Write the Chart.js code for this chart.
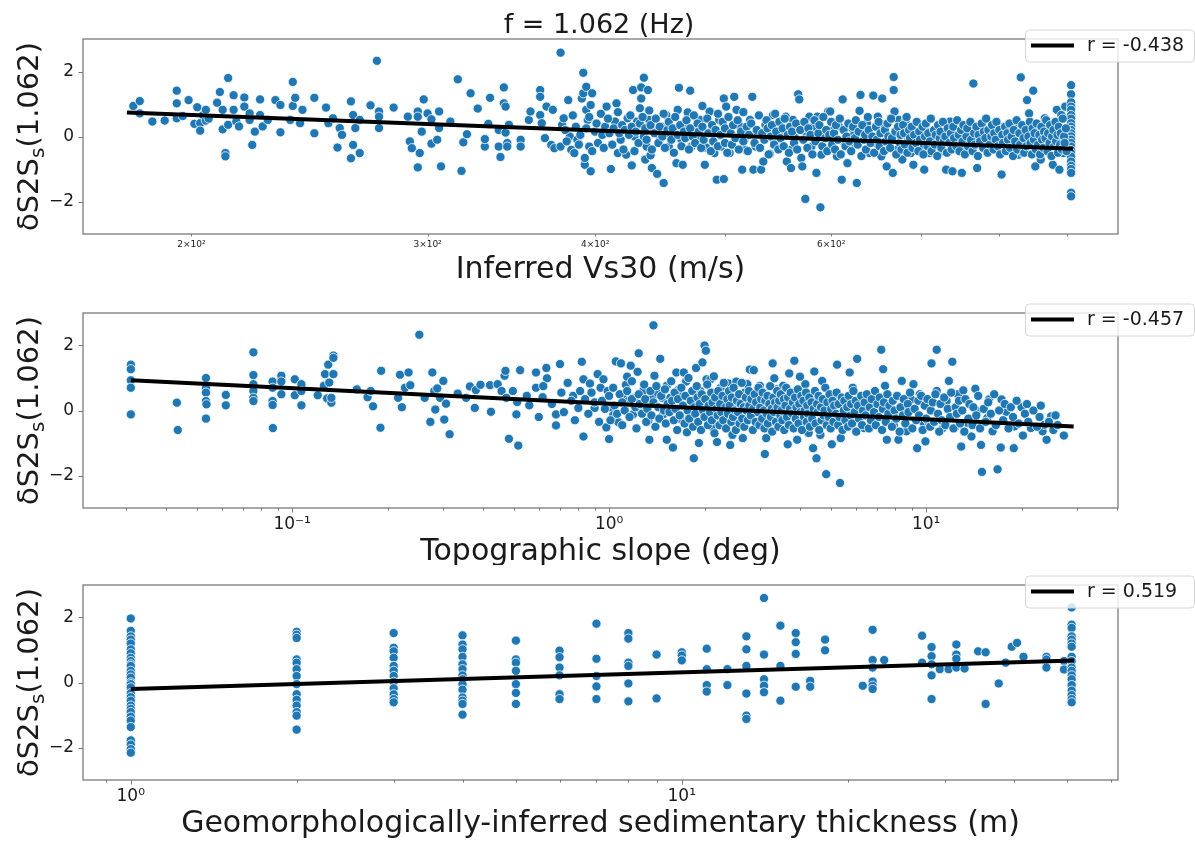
<!DOCTYPE html>
<html>
<head>
<meta charset="utf-8">
<title>dS2S vs site parameters</title>
<script src="https://cdn.jsdelivr.net/npm/chart.js@4.4.1/dist/chart.umd.min.js"></script>
<style>
  html, body { margin: 0; padding: 0; background: #fff; }
  #page { position: relative; width: 1195px; height: 842px; overflow: hidden; }
  #page canvas { position: absolute; left: 0; }
</style>
</head>
<body>
<div id="page">
  <canvas id="vs30Chart" width="1195" height="285" style="top:0px"></canvas>
  <canvas id="slopeChart" width="1195" height="280" style="top:285px"></canvas>
  <canvas id="thickChart" width="1195" height="277" style="top:565px"></canvas>
</div>
<script>
// station terms vs inferred Vs30 (m/s)
const vs30Points = [
  [181,0.94],[183,1.09],[183,0.71],[187,0.46],[191,0.49],[195,1.41],[195,1.02],[195,0.56],[197,0.63],[199,1.12],
  [201,0.39],[202,0.9],[203,0.41],[203,0.18],[204,0.66],[205,0.82],[205,0.49],[206,0.55],[209,1.04],[210,1.37],
  [211,0.22],[211,0.82],[212,-0.51],[212,-0.61],[213,1.8],[213,0.36],[215,0.82],[215,1.27],[216,0.46],[217,0.31],
  [219,1.2],[219,0.92],[221,0.71],[221,0.51],[222,-0.26],[223,0.15],[225,1.14],[225,0.66],[226,0.31],[228,0.51],
  [231,1.12],[233,0.97],[233,0.13],[237,0.51],[238,1.68],[238,0.94],[239,1.19],[241,0.41],[242,0.82],[247,1.19],
  [247,0.1],[252,0.89],[253,0.41],[255,0.56],[257,-0.34],[258,0.26],[259,0.05],[263,1.08],[263,-0.67],[264,0.66],
  [264,-0.26],[265,0.26],[267,-0.51],[267,0.51],[272,0.96],[275,2.33],[276,0.77],[276,0.61],[276,0.26],[283,0.89],
  [290,0.61],[291,-0.15],[292,-0.36],[295,0.77],[295,-0.95],[295,0.61],[296,-0.51],[297,0.15],[298,1.14],[300,0.71],
  [302,0.53],[302,-0.22],[305,-0.1],[306,0.26],[306,0.77],[307,-0.92],[312,0.46],[316,1.76],[318,-1.06],[319,-0.18],
  [321,0.07],[323,1.33],[327,0.86],[331,-0.31],[331,-0.08],[333,0.39],[334,1.19],[339,0.2],[339,-0.31],[340,-0.63],
  [342,1.51],[342,1.02],[343,0.92],[343,0.12],[344,-0.2],[344,-0.31],[345,0.36],[352,-0.1],[352,-0.31],[357,0.51],
  [358,0.77],[364,1.43],[364,1.22],[364,0.66],[365,0.41],[367,-0.05],[368,0.92],[371,-0.26],[372,0.82],[373,-0.36],
  [377,-0.31],[377,2.58],[378,0.36],[379,0.56],[382,1.12],[383,0.0],[384,-0.41],[386,-0.51],[388,-0.1],[391,1.17],
  [392,1.33],[392,1.96],[393,-0.87],[393,-0.66],[394,0.82],[394,1.53],[395,0.51],[396,-0.31],[397,0.97],[397,-1.07],
  [398,1.33],
  [408,0.92],[411,-1.0],[414,0.46],[415,1.02],[416,-0.51],[418,-0.1],[422,-0.56],[423,0.56],[426,-0.89],[427,1.43],
  [428,0.0],[430,0.46],[432,0.87],[433,1.17],[433,1.51],[435,1.81],[436,-0.71],[437,-0.31],[438,1.43],[439,0.51],
  [440,-0.58],[441,-0.97],[442,0.2],[445,-1.15],[447,-0.1],[448,0.31],[450,-1.43],[452,0.66],[454,-0.31],[455,0.05],
  [460,-0.82],[461,0.82],[462,1.5],[464,-0.1],[465,-0.87],[467,0.36],[469,0.74],[471,1.41],[472,-0.31],[474,0.18],
  [476,0.0],[479,0.51],[481,0.94],[483,-0.87],[484,-0.34],[487,0.77],[490,0.1],[491,-0.51],[493,-1.33],[495,0.51],
  [497,-0.31],[499,-1.31],[499,1.17],[501,0.92],[504,-0.51],[508,1.22],[510,0.82],[512,0.36],[515,-1.02],[517,-0.1],
  [518,-0.41],[522,0.51],[524,1.22],[525,-1.02],[527,-0.31],[529,0.1],[532,-1.02],[534,-0.77],[536,0.36],[540,-0.53],
  [543,0.66],[547,-0.1],[551,0.15],[555,0.61],[556,-0.77],[560,-0.41],[560,-0.97],[562,0.51],[564,-0.05],[567,1.3],
  [568,1.14],[570,-0.66],[571,-0.92],[574,-1.92],[575,0.0],[578,0.61],[580,-0.31],[582,0.31],[585,-1.12],[586,0.61],
  [589,-2.18],[590,-0.56],[593,0.0],[597,0.77],[599,0.77],[602,0.2],[606,-0.61],[608,0.31],[611,-1.33],[612,1.14],
  [614,-0.2],[617,-0.82],[620,-0.36],[622,0.26],[624,0.05],[627,-1.43],[630,0.79],[631,1.28],[634,0.15],[638,0.41],
  [641,-0.51],[645,1.26],[647,-0.2],[650,0.61],[654,-0.61],[655,1.17],[656,0.33],[660,-0.92],[663,-0.05],[667,-1.12],
  [668,1.83],[668,1.43],[669,0.77],[672,-0.41],[674,0.51],[678,-0.71],[682,0.51],[685,-0.1],[688,-0.51],[691,-0.87],
  [696,0.1],[700,-0.31],[704,-1.02],[707,0.15],[710,-0.51],[714,0.0],[719,-0.2],[726,-0.46],[731,-1.02],[736,0.46],
  [739,-1.07],[743,-0.15],[751,-1.12],[754,-0.31],[760,0.15],[766,1.63],[769,0.0],[771,-0.97],[776,0.31],[778,-0.31],
  [784,-0.05],[789,0.26],[795,-0.31],[800,-0.15],[804,-1.17],[808,0.31],[814,-0.31],[819,0.15],[822,0.36],[828,-0.56],
  [831,1.82],[834,-0.51],[840,1.12],[843,0.71],[846,0.2],[849,1.41],[852,-0.92],[855,0.0],[860,-0.71],[866,0.56],
  [869,-0.31],[872,0.31],[878,-0.87],[881,-0.1],[884,0.82],[888,-1.02],[891,0.66],[894,-0.51],[897,0.92],
  [906,1.58],[906,1.3],[906,1.05],[906,0.92],[906,0.82],[906,0.66],[906,0.55],[906,0.41],[906,0.3],[906,0.2],
  [906,0.1],[906,0.0],[906,-0.1],[906,-0.2],[906,-0.31],[906,-0.42],[906,-0.51],[906,-0.62],[906,-0.77],[906,-0.9],
  [906,-1.0],[906,-1.12],[906,-1.73],[906,-1.84]
];
// the crowded band between 380 and 900 m/s
const vs30Band = [
  [380,0.2],[381,-0.15],[385,0.65],[387,0.3],[389,-0.25],[390,0.05],[394,0.25],[396,0.6],[398,-0.45],[400,0.15],
  [401,0.4],[402,-0.2],[404,0.7],[405,0.05],[406,-0.35],[407,0.3],[409,0.55],[410,0.1],[412,-0.25],[413,0.25],
  [416,0.75],[417,0.1],[419,0.35],[420,-0.4],[421,0.2],[424,0.05],[425,0.65],[426,0.3],[428,-0.45],[429,0.15],
  [431,-0.2],[432,0.4],[434,0.6],[435,0.0],[436,0.25],[437,-0.1],[439,0.8],[440,0.35],[441,-0.4],[443,0.1],
  [444,0.55],[446,-0.2],[447,0.3],[449,0.0],[450,0.7],[451,-0.35],[453,0.2],[454,0.45],[456,-0.1],[457,0.25],
  [458,-0.5],[459,0.6],[461,0.05],[463,0.35],[464,-0.3],[466,0.15],[467,-0.05],[468,0.5],[470,-0.4],[471,0.25],
  [473,0.0],[474,0.65],[475,-0.2],[477,0.4],[478,0.15],[480,-0.35],[481,0.3],[482,-0.1],[485,0.55],[486,0.1],
  [488,-0.45],[489,0.35],[490,-0.15],[492,0.2],[494,0.7],[494,-0.3],[496,0.05],[498,0.45],[500,-0.2],[500,0.25],
  [502,-0.5],[503,0.6],[505,0.1],[506,-0.25],[507,0.35],[509,-0.05],[511,0.5],[512,-0.4],[514,0.15],[516,0.75],
  [516,-0.15],[519,0.3],[520,-0.45],[521,0.05],[523,0.4],[526,-0.2],[528,0.2],[530,0.65],[531,-0.35],[533,0.1],
  [535,-0.1],[537,0.5],[538,0.25],[539,-0.55],[541,0.0],[542,0.35],[544,-0.25],[545,0.7],[546,0.15],[548,-0.4],
  [549,0.45],[550,-0.05],[552,0.25],[553,-0.3],[554,0.55],[557,0.05],[558,-0.5],[559,0.3],[561,0.15],[563,-0.2],
  [565,0.4],[566,-0.4],[569,0.2],[572,-0.1],[573,0.45],[576,-0.35],[577,0.25],[579,0.05],[581,-0.55],[583,0.5],
  [584,-0.15],[587,0.1],[588,0.35],[591,-0.3],[592,0.6],[594,-0.05],[595,0.2],[596,-0.45],[598,0.05],[600,0.45],
  [601,-0.25],[603,0.1],[604,-0.4],[605,0.35],[607,-0.1],[609,0.55],[610,-0.55],[613,0.2],[615,-0.3],[616,0.0],
  [618,0.4],[619,-0.15],[621,-0.45],[623,0.3],[625,-0.05],[626,0.5],[628,-0.25],[629,0.15],[632,-0.6],[633,0.35],
  [635,-0.1],[636,0.05],[637,-0.4],[639,0.6],[640,0.2],[642,-0.2],[644,0.0],[646,-0.5],[648,0.3],[649,-0.1],
  [651,0.45],[652,-0.3],[653,0.1],[657,-0.45],[658,0.2],[659,-0.15],[661,0.4],[662,0.0],[664,-0.35],[665,0.55],
  [666,-0.05],[670,0.15],[671,-0.55],[673,0.3],[675,-0.2],[676,0.05],[677,-0.4],[679,0.35],[680,0.1],[681,-0.25],
  [683,0.6],[684,-0.5],[686,0.2],[687,-0.05],[689,0.3],[690,-0.35],[692,0.05],[694,-0.2],[695,0.45],[697,-0.45],
  [698,0.15],[699,-0.1],[702,0.3],[703,-0.55],[705,0.0],[706,0.4],[708,-0.3],[709,0.1],[711,-0.15],[712,0.55],
  [713,-0.45],[716,0.2],[717,-0.25],[718,0.05],[720,-0.6],[721,0.35],[723,-0.05],[724,0.15],[725,-0.35],[727,0.45],
  [728,-0.15],[730,0.0],[732,-0.5],[733,0.25],[735,-0.2],[737,0.1],[738,-0.4],[740,0.3],[741,-0.05],[744,-0.3],
  [745,0.5],[747,0.05],[748,-0.45],[750,0.2],[752,-0.15],[753,0.35],[755,-0.55],[757,0.0],[758,0.25],[759,-0.3],
  [762,0.45],[763,-0.1],[765,-0.45],[767,0.1],[768,-0.25],[770,0.3],[772,-0.6],[773,0.05],[775,-0.15],[777,0.4],
  [779,-0.35],[780,0.15],[782,-0.05],[783,0.55],[785,-0.5],[786,0.2],[788,-0.25],[790,0.0],[791,0.35],[793,-0.4],
  [794,0.1],[796,-0.1],[797,0.45],[799,-0.3],[801,0.2],[802,-0.55],[805,0.05],[806,-0.2],[809,0.3],[810,-0.45],
  [812,0.1],[813,-0.1],[815,0.4],[816,-0.35],[818,0.0],[820,-0.6],[821,0.2],[823,-0.15],[825,0.5],[826,-0.4],
  [829,0.1],[830,-0.25],[833,0.35],[835,-0.05],[836,-0.5],[838,0.2],[839,-0.3],[842,0.0],[844,0.45],[845,-0.2],
  [847,-0.55],[848,0.25],[850,-0.1],[851,0.1],[853,-0.4],[854,0.4],[856,-0.25],[858,0.05],[859,-0.55],[861,0.3],
  [862,-0.1],[864,-0.35],[865,0.15],[867,-0.05],[868,0.5],[870,-0.45],[871,0.1],[873,-0.2],[874,0.35],[876,-0.6],
  [877,0.0],[879,0.2],[880,-0.3],[882,0.45],[883,-0.15],[885,0.05],[886,-0.5],[887,0.3],[889,-0.25],[890,0.1],
  [892,-0.4],[893,0.55],[895,0.0],[896,-0.2],[898,0.25],[899,-0.45]
];
const vs30Fit = [[179, 0.74], [909, -0.38]];

// station terms vs topographic slope (deg)
const slopePoints = [
  [0.031,1.41],[0.031,1.27],[0.031,0.93],[0.031,0.70],[0.031,-0.12],[0.0433,0.24],[0.0436,-0.6],[0.0535,1.0],
  [0.0535,0.70],[0.0535,0.55],[0.0535,0.29],[0.0535,-0.25],[0.0537,0.19],[0.0618,0.48],[0.0618,0.16],[0.0755,1.79],
  [0.0755,1.09],[0.0755,0.81],[0.0755,0.60],[0.0755,0.39],[0.0755,0.29],[0.0868,0.89],[0.0868,0.70],[0.0868,0.29],
  [0.0868,0.17],[0.087,-0.54],[0.0925,1.07],[0.0925,0.89],[0.0925,0.50],[0.102,0.96],[0.102,0.47],[0.107,0.81],
  [0.107,0.60],[0.107,0.16],[0.1205,0.47],[0.126,0.76],[0.127,1.12],[0.129,0.37],[0.130,1.41],[0.131,0.86],
  [0.133,0.24],[0.133,0.39],[0.135,1.69],[0.135,1.62],[0.135,1.12],[0.160,0.65],[0.173,0.41],[0.177,0.60],
  [0.180,0.13],[0.190,-0.53],[0.191,1.22],[0.216,0.39],[0.219,1.10],[0.222,0.10],[0.227,0.70],[0.233,1.17],
  [0.236,0.78],[0.252,2.33],[0.262,0.39],[0.273,-0.35],[0.277,1.17],[0.281,0.60],[0.283,0.03],[0.287,0.68],
  [0.293,0.39],[0.300,0.91],[0.302,-0.28],[0.306,0.21],[0.314,-0.73],[0.333,0.52],[0.354,0.39],[0.364,0.74],
  [0.377,0.08],[0.380,0.63],[0.393,0.79],[0.421,0.78],[0.424,-0.04],[0.445,0.81],[0.458,0.60],[0.468,1.07],
  [0.471,1.22],[0.474,0.39],[0.483,-0.87],[0.497,0.60],[0.510,-0.12],[0.513,0.26],[0.517,-1.08],[0.524,1.24],
  [0.56,0.16],[0.588,1.17],[0.588,0.70],[0.617,0.41],[0.634,1.31],[0.637,0.99],[0.68,-0.12],[0.68,-0.46],
  [0.70,1.43],[0.707,0.55],[0.77,0.45],[0.80,0.08],[0.81,0.60],[0.82,1.50],[0.83,0.96],[0.83,-0.80],
  [0.87,0.83],[0.90,0.08],[0.92,1.12],
  [0.55,0.45],[0.6,-0.2],[0.62,0.75],[0.66,0.2],[0.72,-0.05],[0.74,0.85],[0.76,0.3],[0.78,-0.3],[0.84,0.35],
  [0.86,-0.1],[0.88,0.55],[0.9,0.25],[0.93,-0.35],[0.94,0.7],
  [0.96,0.96],[0.99,0.60],[0.98,-0.52],[1.0,-0.88],[1.02,0.08],[1.03,-0.15],[1.05,1.51],[1.07,-0.36],[1.09,1.45],
  [1.11,0.50],[1.13,0.79],[1.14,1.04],[1.15,0.29],[1.17,1.38],[1.19,-0.12],[1.20,0.39],[1.23,1.19],[1.24,1.76],
  [1.26,-0.02],[1.28,0.60],[1.33,-0.31],[1.34,-0.90],[1.37,0.39],[1.38,2.62],[1.39,1.07],[1.42,0.55],[1.45,1.59],
  [1.47,0.39],[1.48,-0.12],[1.52,0.76],[1.52,-0.90],[1.56,0.39],[1.59,-1.14],[1.63,1.17],[1.66,0.65],[1.68,-0.26],
  [1.70,0.45],[1.72,1.17],[1.75,0.89],[1.76,-0.67],[1.80,-0.25],[1.85,-1.47],[1.88,1.31],[1.92,-1.0],[1.94,0.60],
  [1.97,1.48],[2.0,2.0],[2.02,1.84],[2.03,0.96],[2.07,0.29],[2.09,0.96],[2.13,-0.54],[2.19,-0.97],[2.25,0.70],
  [2.31,0.19],[2.38,0.83],[2.41,-1.06],[2.45,-0.75],[2.48,0.13],[2.52,0.89],[2.56,-0.02],[2.64,-0.85],[2.68,0.55],
  [2.73,0.81],[2.78,1.26],[2.83,0.08],[2.86,1.24],[2.93,-0.44],[2.99,0.76],[3.06,-0.02],[3.10,-1.34],[3.13,-0.85],
  [3.19,-0.23],[3.28,1.45],[3.32,0.99],[3.38,0.65],[3.45,0.34],[3.54,0.76],[3.66,-1.04],[3.70,1.14],[3.76,-0.02],
  [3.84,1.53],[3.92,-0.90],[4.0,1.04],[4.09,-0.38],[4.16,0.81],[4.26,-0.69],[4.33,0.32],[4.40,-1.16],[4.44,1.20],
  [4.51,-1.47],[4.64,-0.75],[4.7,0.91],[4.84,-1.96],[4.90,-0.23],[5.04,-1.04],[5.17,0.39],[5.24,1.41],[5.35,-2.23],
  [5.38,-0.85],[5.61,-0.28],[5.74,1.17],[5.87,0.70],[6.06,1.59],[6.20,0.08],[6.37,-0.54],[6.56,0.39],[6.78,-0.44],
  [6.97,0.39],[7.22,1.87],[7.32,1.27],[7.42,0.76],[7.52,-0.90],[7.73,0.08],[7.91,-0.44],[8.18,-0.90],[8.38,0.91],
  [8.54,-0.02],[8.67,-0.64],[8.97,0.34],[9.12,0.81],[9.37,-1.16],[9.55,0.50],[9.82,-0.38],[9.95,-0.95],[10.2,-0.38],
  [10.4,1.45],[10.8,1.87],[10.8,0.60],[11.3,-0.54],[11.6,0.29],[11.8,0.91],[12.1,1.50],[12.3,-0.54],[12.6,0.50],
  [12.9,-1.11],[13.1,0.62],[13.5,-0.38],[13.9,-0.80],[14.3,0.67],[14.5,-0.02],[14.9,-1.06],[15.0,-1.89],[15.6,-0.23],
  [15.8,0.34],[16.2,-0.64],[16.8,-1.81],[17.2,-1.14],[17.3,0.34],[17.9,-0.04],[18.9,-1.16],[19.0,-0.49],[20.0,0.10],
  [20.2,-0.77],[21.4,-0.54],[23.3,-0.64],[23.6,-0.44],[24.0,-0.90],[24.8,-0.18],[27.2,-0.77]
];
// the crowded band between 1 and 26 deg
const slopeBand = [
  [0.95,0.3],[0.97,0.05],[1.0,0.45],[1.01,-0.3],[1.03,0.7],[1.04,0.15],[1.06,-0.1],[1.08,0.5],[1.1,0.25],[1.1,-0.45],
  [1.12,0.0],[1.14,0.6],[1.16,-0.2],[1.18,0.35],[1.18,0.9],[1.21,0.1],[1.22,-0.55],[1.24,0.5],[1.25,0.2],[1.27,-0.1],
  [1.29,0.8],[1.3,0.35],[1.31,-0.35],[1.32,0.05],[1.35,0.6],[1.36,-0.15],[1.38,0.25],[1.4,-0.5],[1.41,0.75],[1.43,0.1],
  [1.44,-0.25],[1.46,0.45],[1.49,0.0],[1.5,0.65],[1.51,-0.4],[1.53,0.2],[1.55,-0.05],[1.57,0.9],[1.58,0.3],[1.6,-0.3],
  [1.61,0.55],[1.62,0.05],[1.64,-0.6],[1.65,0.35],[1.67,-0.15],[1.69,0.7],[1.71,0.15],[1.73,-0.4],[1.74,0.45],[1.77,0.0],
  [1.78,1.0],[1.79,-0.25],[1.81,0.3],[1.83,0.6],[1.84,-0.5],[1.86,0.1],[1.87,-0.1],[1.89,0.75],[1.9,0.4],[1.91,-0.35],
  [1.93,0.2],[1.95,-0.6],[1.96,0.5],[1.98,0.0],[2.0,-0.2],[2.01,0.35],[2.04,0.8],[2.05,-0.45],[2.06,0.15],[2.08,-0.05],
  [2.1,0.55],[2.11,-0.3],[2.12,0.25],[2.14,1.05],[2.15,-0.7],[2.16,0.4],[2.18,0.05],[2.2,-0.15],[2.21,0.6],[2.23,-0.45],
  [2.24,0.2],[2.26,-0.05],[2.28,0.45],[2.29,-0.3],[2.3,0.85],[2.33,0.1],[2.34,-0.55],[2.36,0.35],[2.37,-0.1],[2.39,0.6],
  [2.4,0.15],[2.43,-0.35],[2.44,0.4],[2.46,-0.2],[2.47,0.7],[2.5,0.0],[2.51,-0.6],[2.53,0.3],[2.55,-0.05],[2.57,0.5],
  [2.58,-0.4],[2.6,0.2],[2.62,0.85],[2.63,-0.25],[2.66,0.1],[2.67,-0.5],[2.7,0.4],[2.71,0.0],[2.74,-0.3],[2.76,0.6],
  [2.77,0.15],[2.8,-0.15],[2.81,0.35],[2.84,-0.6],[2.85,0.05],[2.88,0.5],[2.9,-0.35],[2.91,0.25],[2.95,-0.05],[2.96,0.7],
  [2.98,-0.45],[3.0,0.1],[3.02,0.35],[3.04,-0.25],[3.05,0.55],[3.08,0.0],[3.09,-0.55],[3.11,0.3],[3.14,-0.1],[3.16,0.45],
  [3.17,-0.4],[3.2,0.2],[3.22,0.75],[3.24,-0.2],[3.26,0.05],[3.27,-0.65],[3.3,0.4],[3.31,-0.05],[3.34,0.25],[3.36,-0.35],
  [3.39,0.6],[3.4,0.1],[3.42,-0.5],[3.44,0.3],[3.47,-0.15],[3.48,0.5],[3.5,0.0],[3.52,-0.3],[3.56,0.35],[3.57,-0.6],
  [3.6,0.15],[3.62,0.7],[3.64,-0.2],[3.67,0.4],[3.69,-0.45],[3.72,0.05],[3.74,0.55],[3.78,-0.1],[3.8,0.25],[3.82,-0.55],
  [3.86,0.4],[3.88,-0.25],[3.9,0.1],[3.94,0.65],[3.96,-0.4],[3.98,0.2],[4.02,-0.05],[4.04,0.45],[4.06,-0.6],[4.1,0.3],
  [4.12,-0.2],[4.14,0.0],[4.18,0.55],[4.2,-0.35],[4.22,0.15],[4.24,-0.1],[4.28,0.4],[4.3,-0.5],[4.35,0.25],[4.37,-0.25],
  [4.42,0.05],[4.46,0.6],[4.48,-0.4],[4.53,0.2],[4.55,-0.05],[4.58,0.45],[4.6,-0.6],[4.66,0.1],[4.68,-0.3],[4.72,0.35],
  [4.75,-0.15],[4.78,0.0],[4.81,0.7],[4.86,-0.45],[4.88,0.25],[4.93,-0.2],[4.96,0.5],[5.0,-0.55],[5.02,0.05],[5.07,0.3],
  [5.1,-0.35],[5.13,0.15],[5.2,-0.1],[5.22,0.55],[5.28,-0.45],[5.3,0.2],[5.33,-0.2],[5.42,0.4],[5.45,-0.6],[5.5,0.0],
  [5.52,0.3],[5.56,-0.3],[5.64,0.1],[5.67,-0.5],[5.7,0.45],[5.78,-0.15],[5.8,0.2],[5.84,-0.4],[5.9,0.6],[5.95,-0.05],
  [6.0,0.3],[6.02,-0.65],[6.1,0.15],[6.14,-0.25],[6.24,0.45],[6.28,-0.45],[6.32,0.0],[6.4,0.25],[6.44,-0.15],[6.5,0.5],
  [6.6,-0.55],[6.64,0.1],[6.7,-0.3],[6.74,0.35],[6.85,-0.05],[6.9,0.6],[6.94,-0.45],[7.02,0.2],[7.1,-0.2],[7.14,0.4],
  [7.26,-0.6],[7.3,0.05],[7.36,0.25],[7.46,-0.35],[7.55,0.5],[7.6,-0.1],[7.66,0.15],[7.8,-0.5],[7.85,0.3],[7.95,0.0],
  [8.05,-0.25],[8.1,0.45],[8.25,-0.65],[8.3,0.1],[8.45,-0.15],[8.5,0.35],[8.6,-0.4],[8.75,0.2],[8.8,-0.05],[8.9,0.55],
  [9.05,-0.55],[9.2,0.05],[9.3,-0.3],[9.45,0.3],[9.5,-0.15],[9.65,0.45],[9.75,-0.6],[9.9,0.15],[10.0,-0.25],[10.1,0.35],
  [10.3,-0.5],[10.35,0.0],[10.5,0.25],[10.6,-0.35],[10.7,0.5],[10.9,-0.1],[11.0,-0.65],[11.1,0.2],[11.2,-0.3],[11.4,0.4],
  [11.5,-0.45],[11.7,0.05],[11.9,-0.2],[12.0,0.55],[12.2,-0.55],[12.4,0.1],[12.5,-0.1],[12.7,0.3],[12.8,-0.4],[13.0,0.0],
  [13.2,-0.65],[13.3,0.35],[13.6,-0.25],[13.7,0.2],[14.0,-0.45],[14.1,0.1],[14.4,-0.15],[14.6,0.45],[14.8,-0.55],[15.2,0.05],
  [15.4,-0.35],[15.7,0.25],[16.0,-0.1],[16.4,0.5],[16.6,-0.45],[17.0,0.0],[17.5,-0.3],[17.7,0.2],[18.2,-0.55],[18.5,0.1],
  [18.8,-0.2],[19.3,0.3],[19.6,-0.4],[20.5,-0.1],[20.8,0.2],[21.0,-0.35],[21.8,0.0],[22.4,-0.5],[22.8,-0.2],[23.0,0.15],
  [24.4,-0.35],[25.2,-0.6],[25.6,-0.15],[26.0,-0.45]
];
const slopeFit = [[0.031, 0.93], [29.2, -0.49]];

// station terms vs sedimentary thickness (m)
const thicknessPoints = [
  [1,1.97],[1,1.59],[1,1.42],[1,1.32],[1,1.20],[1,1.02],[1,0.9],[1,0.76],[1,0.66],[1,0.56],[1,0.51],[1,0.36],
  [1,0.25],[1,0.15],[1,0.0],[1,-0.05],[1,-0.15],[1,-0.33],[1,-0.45],[1,-0.56],[1,-0.71],[1,-0.81],[1,-0.91],
  [1,-1.05],[1,-1.17],[1,-1.37],[1,-1.78],[1,-1.91],[1,-2.05],[1,-2.16],
  [2,1.56],[2,1.47],[2,1.37],[2,0.71],[2,0.61],[2,0.41],[2,0.20],[2,-0.05],[2,-0.36],[2,-0.53],[2,-0.71],
  [2,-0.91],[2,-1.02],[2,-1.45],
  [3,1.52],[3,1.07],[3,0.96],[3,0.76],[3,0.51],[3,0.36],[3,0.20],[3,0.02],[3,-0.18],[3,-0.36],[3,-0.51],[3,-0.61],
  [4,1.45],[4,1.17],[4,1.02],[4,0.79],[4,0.56],[4,0.41],[4,0.22],[4,0.10],[4,-0.05],[4,-0.22],[4,-0.46],[4,-0.56],
  [4,-0.66],[4,-0.99],
  [5,1.29],[5,0.71],[5,0.61],[5,0.36],[5,-0.05],[5,-0.32],[5,-0.66],
  [6,0.98],[6,0.78],[6,0.46],[6,0.22],[6,-0.36],[6,-0.51],
  [7,1.81],[7,0.73],[7,0.20],[7,-0.12],[7,-0.51],
  [8,1.52],[8,1.35],[8,0.61],[8,0.51],[8,-0.03],[8,-0.58],
  [9,0.86],[9,-0.49],
  [10,0.93],[10,0.83],[10,0.68],
  [11.1,1.04],[11.1,0.41],[11.1,-0.08],[11.1,-0.28],
  [12.1,0.41],[12.1,-0.08],
  [13.1,1.42],[13.1,1.02],[13.1,0.51],[13.1,-0.34],[13.1,-1.02],[13.1,-1.12],
  [14.1,2.6],[14.1,0.86],[14.1,0.10],[14.1,-0.10],[14.1,-0.30],
  [15.1,1.75],[15.1,0.51],[15.1,-0.56],
  [16.1,1.52],[16.1,1.24],[16.1,0.88],[16.1,-0.13],
  [17.1,0.05],[17.1,-0.13],
  [18.2,1.32],[18.2,0.99],
  [21.3,-0.10],
  [22.2,1.62],[22.2,0.69],[22.2,0.46],[22.2,0.03],[22.2,-0.10],[22.2,-0.20],
  [23.3,0.69],
  [27.3,1.44],[27.3,0.61],
  [28.4,1.09],[28.4,0.81],[28.4,0.56],[28.4,0.22],[28.4,-0.51],
  [29.4,0.41],[30.5,0.41],
  [31.5,1.17],[31.5,0.86],[31.5,0.73],[31.5,0.46],
  [32.6,0.43],[34.5,0.96],[35.6,0.93],[35.6,-0.66],[37.6,-0.03],[38.7,0.61],[39.7,1.10],[40.6,1.22],[41.7,0.79],
  [45.9,0.79],[45.9,0.71],[45.9,0.46],
  [49.4,0.66],[49.4,0.40],
  [51,2.31],[51,1.78],[51,1.68],[51,1.42],[51,1.32],[51,1.20],[51,1.10],[51,0.79],[51,0.66],[51,0.46],[51,0.36],
  [51,0.22],[51,0.10],[51,-0.08],[51,-0.25],[51,-0.39],[51,-0.51],[51,-0.61]
];
const thicknessFit = [[1, -0.2], [51.5, 0.68]];

// axis ticks and labels
const yTicks = [-2, 0, 2];
const vs30Ticks = [200, 300, 400, 500, 600, 700, 800, 900];
const vs30TickLabels = { 200: '2×10²', 300: '3×10²', 400: '4×10²', 600: '6×10²' };
const slopeTicks = [0.03, 0.04, 0.05, 0.06, 0.07, 0.08, 0.09, 0.1, 0.2, 0.3, 0.4, 0.5, 0.6, 0.7, 0.8, 0.9,
  1, 2, 3, 4, 5, 6, 7, 8, 9, 10, 20, 30, 40];
const slopeTickLabels = { 0.1: '10⁻¹', 1: '10⁰', 10: '10¹' };
const thicknessTicks = [0.9, 1, 2, 3, 4, 5, 6, 7, 8, 9, 10, 20, 30, 40, 50, 60];
const thicknessTickLabels = { 1: '10⁰', 10: '10¹' };

const FONT = '"DejaVu Sans", sans-serif';
const POINT_BLUE = '#1f77b4';
const SPINE = '#7a7a7a';
const TEXT = '#1a1a1a';

function toXY(pairs) {
    return pairs.map(p => ({ x: p[0], y: p[1] }));
}

function fmtY(v) {
    return v < 0 ? '\u2212' + Math.abs(v) : String(v);
}

function makePanel(id, cfg) {
    const decor = {
        id: 'decor',
        afterDatasetsDraw(chart) {
            const { ctx, chartArea: a } = chart;
            const xs = chart.scales.x, ys = chart.scales.y;
            ctx.save();
            ctx.strokeStyle = SPINE;
            ctx.lineWidth = 1;
            ctx.beginPath();
            cfg.xTicks.forEach(v => {
                const px = Math.round(xs.getPixelForValue(v)) + 0.5;
                if (px < a.left - 1 || px > a.right + 1) return;
                const len = cfg.xMajor.includes(v) ? 4.5 : 2.5;
                ctx.moveTo(px, a.bottom);
                ctx.lineTo(px, a.bottom + len);
            });
            yTicks.forEach(v => {
                const py = Math.round(ys.getPixelForValue(v)) + 0.5;
                ctx.moveTo(a.left, py);
                ctx.lineTo(a.left - 4.5, py);
            });
            ctx.stroke();
            ctx.lineWidth = 1.3;
            ctx.strokeRect(a.left, a.top, a.right - a.left, a.bottom - a.top);
            ctx.restore();
        },
        afterDraw(chart) {
            const { ctx, chartArea: a } = chart;
            ctx.save();
            ctx.fillStyle = TEXT;

            // y label: δS2S_s(1.062), rotated
            ctx.translate(38, (a.top + a.bottom) / 2);
            ctx.rotate(-Math.PI / 2);
            const parts = [
                { t: 'δS2S', f: '29px ' + FONT, dy: 0 },
                { t: 's', f: '20px ' + FONT, dy: 6 },
                { t: '(1.062)', f: '29px ' + FONT, dy: 0 }
            ];
            let total = 0;
            parts.forEach(p => { ctx.font = p.f; p.w = ctx.measureText(p.t).width; total += p.w; });
            let cx = -total / 2;
            ctx.textBaseline = 'alphabetic';
            ctx.textAlign = 'left';
            parts.forEach(p => { ctx.font = p.f; ctx.fillText(p.t, cx, p.dy); cx += p.w; });
            ctx.setTransform(1, 0, 0, 1, 0, 0);

            // x label
            ctx.font = '30px ' + FONT;
            ctx.textAlign = 'center';
            ctx.fillText(cfg.xTitle, (a.left + a.right) / 2, cfg.xTitleY);

            if (cfg.title) {
                ctx.font = '27px ' + FONT;
                ctx.fillText(cfg.title, 599, 33);
            }

            // legend box overhanging the top-right corner
            const lx = 1025, lw = 169, lh = 32, ly = a.top - 9.5;
            ctx.beginPath();
            ctx.roundRect(lx + 0.5, ly + 0.5, lw, lh, 4);
            ctx.fillStyle = 'rgba(255,255,255,0.8)';
            ctx.fill();
            ctx.strokeStyle = '#d6d6d6';
            ctx.lineWidth = 1;
            ctx.stroke();
            ctx.beginPath();
            ctx.strokeStyle = '#000';
            ctx.lineWidth = 4;
            ctx.moveTo(1031, ly + lh / 2);
            ctx.lineTo(1074, ly + lh / 2);
            ctx.stroke();
            ctx.fillStyle = TEXT;
            ctx.font = '19px ' + FONT;
            ctx.textAlign = 'left';
            ctx.textBaseline = 'middle';
            ctx.fillText(cfg.legend, 1087, ly + lh / 2 + 1);
            ctx.restore();
        }
    };

    return new Chart(document.getElementById(id), {
        type: 'scatter',
        data: {
            datasets: [{
                data: toXY(cfg.fit),
                showLine: true,
                borderColor: '#000',
                borderWidth: 4,
                pointRadius: 0,
                order: 0
            }, {
                data: toXY(cfg.points),
                backgroundColor: POINT_BLUE,
                borderColor: '#ffffff',
                borderWidth: 0.8,
                pointRadius: 4.6,
                order: 1
            }]
        },
        options: {
            responsive: false,
            animation: false,
            devicePixelRatio: 1,
            layout: { padding: { left: 33, right: 77, top: cfg.padTop, bottom: cfg.padBottom } },
            plugins: {
                legend: { display: false },
                tooltip: { enabled: false }
            },
            scales: {
                x: {
                    type: 'logarithmic',
                    min: cfg.xMin,
                    max: cfg.xMax,
                    afterFit: s => { s.height = 40; },
                    afterBuildTicks: s => { s.ticks = cfg.xTicks.map(v => ({ value: v })); },
                    grid: { display: false, drawTicks: false },
                    border: { display: false },
                    ticks: {
                        autoSkip: false,
                        maxRotation: 0,
                        padding: cfg.xTickPad,
                        color: TEXT,
                        font: { family: 'DejaVu Sans', size: cfg.xTickSize },
                        callback: v => cfg.xLabels[v] || ''
                    }
                },
                y: {
                    min: -3,
                    max: 3,
                    afterFit: s => { s.width = 50; },
                    afterBuildTicks: s => { s.ticks = yTicks.map(v => ({ value: v })); },
                    grid: { display: false, drawTicks: false },
                    border: { display: false },
                    ticks: {
                        padding: 9,
                        color: TEXT,
                        font: { family: 'DejaVu Sans', size: 17 },
                        callback: v => fmtY(v)
                    }
                }
            }
        },
        plugins: [decor]
    });
}

makePanel('vs30Chart', {
    points: vs30Points.concat(vs30Band), fit: vs30Fit,
    xMin: 166, xMax: 982, xTicks: vs30Ticks, xMajor: [], xLabels: vs30TickLabels,
    xTickSize: 9, xTickPad: 5,
    padTop: 39, padBottom: 11,
    xTitle: 'Inferred Vs30 (m/s)', xTitleY: 278,
    title: 'f = 1.062 (Hz)', legend: 'r = -0.438'
});

makePanel('slopeChart', {
    points: slopePoints.concat(slopeBand), fit: slopeFit,
    xMin: 0.0219, xMax: 40.3, xTicks: slopeTicks, xMajor: [0.1, 1, 10], xLabels: slopeTickLabels,
    xTickSize: 17, xTickPad: 6,
    padTop: 28, padBottom: 17,
    xTitle: 'Topographic slope (deg)', xTitleY: 275,
    legend: 'r = -0.457'
});

makePanel('thickChart', {
    points: thicknessPoints, fit: thicknessFit,
    xMin: 0.819, xMax: 61.9, xTicks: thicknessTicks, xMajor: [1, 10], xLabels: thicknessTickLabels,
    xTickSize: 17, xTickPad: 6,
    padTop: 20, padBottom: 22,
    xTitle: 'Geomorphologically-inferred sedimentary thickness (m)', xTitleY: 267,
    legend: 'r = 0.519'
});
</script>
</body>
</html>
